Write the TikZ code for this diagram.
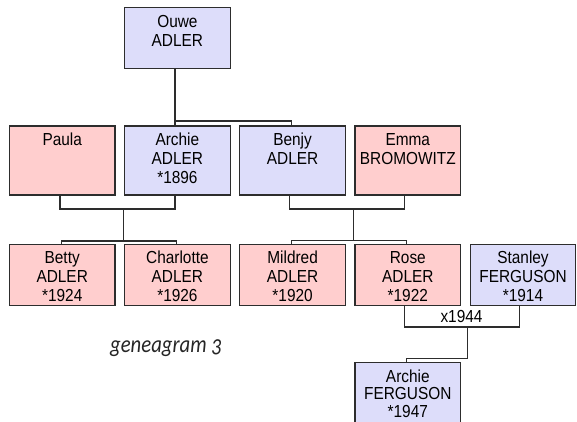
\documentclass[tikz,border=0pt]{standalone}
\usepackage{fontspec}
\usepackage{graphicx}
\setmainfont{Liberation Sans}
\newfontfamily\captionfont[Numbers=OldStyle]{Carlito}
\definecolor{mblue}{RGB}{221,221,250}
\definecolor{fpink}{RGB}{255,206,206}
\definecolor{edge}{RGB}{45,45,45}
\newcommand\persontext[1]{\scalebox{1}[1.13]{\begin{tabular}[t]{@{}c@{}}#1\end{tabular}}}
\tikzset{
  pbox/.style={draw=edge, line width=1.2pt, inner sep=0pt, minimum width=105.5pt, minimum height=61pt},
  tallbox/.style={pbox, minimum height=69pt},
  male/.style={fill=mblue},
  female/.style={fill=fpink},
  ptext/.style={anchor=base, inner sep=0pt, text=black,
    font=\fontsize{15.4}{16.8}\selectfont},
  link/.style={draw=edge, line width=1.2pt},
}
\begin{document}
\begin{tikzpicture}[x=1pt, y=-1pt]
\useasboundingbox (0,0) rectangle (577,422);
\clip (0,0) rectangle (577,422);
% row 1
\node[pbox, male] (ouwe) at (177.4,37.8) {};
% row 2
\node[tallbox, female] (paula) at (62.2,160.5) {};
\node[tallbox, male] (archie) at (177.4,160.5) {};
\node[tallbox, male] (benjy) at (292.6,160.5) {};
\node[tallbox, female] (emma) at (407.8,160.5) {};
% row 3
\node[pbox, female] (betty) at (62.2,274.8) {};
\node[pbox, female] (charlotte) at (177.4,274.8) {};
\node[pbox, female] (mildred) at (292.6,274.8) {};
\node[pbox, female] (rose) at (407.8,274.8) {};
\node[pbox, male] (stanley) at (523.0,274.8) {};
% row 4
\node[pbox, male] (archief) at (407.8,393.2) {};

% texts
\node[ptext] (ouwe-t) at ([yshift=-21]ouwe.north) {\persontext{Ouwe\\ADLER}};
\node[ptext] (paula-t) at ([yshift=-20]paula.north) {\persontext{Paula}};
\node[ptext] (archie-t) at ([yshift=-20]archie.north) {\persontext{Archie\\ADLER\\{*}1896}};
\node[ptext] (benjy-t) at ([yshift=-20]benjy.north) {\persontext{Benjy\\ADLER}};
\node[ptext] (emma-t) at ([yshift=-20]emma.north) {\persontext{Emma\\BROMOWITZ}};
\node[ptext] (betty-t) at ([yshift=-19.5]betty.north) {\persontext{Betty\\ADLER\\{*}1924}};
\node[ptext] (charlotte-t) at ([yshift=-19.5]charlotte.north) {\persontext{Charlotte\\ADLER\\{*}1926}};
\node[ptext] (mildred-t) at ([yshift=-19.5]mildred.north) {\persontext{Mildred\\ADLER\\{*}1920}};
\node[ptext] (rose-t) at ([yshift=-19.5]rose.north) {\persontext{Rose\\ADLER\\{*}1922}};
\node[ptext] (stanley-t) at ([yshift=-19.5]stanley.north) {\persontext{Stanley\\FERGUSON\\{*}1914}};
\node[ptext] (archief-t) at ([yshift=-20]archief.north) {\persontext{Archie\\[-1.2pt]FERGUSON\\[-1.2pt]{*}1947}};

% connectors
\draw[link] ([xshift=-2.4]ouwe.south) -- ([xshift=-2.4]archie.north);
\draw[link] ([xshift=-2.4,yshift=4.3]archie.north) -| ([xshift=-1.3]benjy.north);

\coordinate (m1) at (123.3,209);
\coordinate (k1) at (123.3,241);
\draw[link] ([xshift=-2.2]paula.south) |- (m1) -| ([xshift=-2.4]archie.south);
\draw[link] (m1) -- (k1);
\draw[link] ([xshift=-0.5]betty.north) |- (k1) -| ([xshift=-0.7]charlotte.north);

\coordinate (m2) at (353.3,209);
\coordinate (k2) at (353.3,240.7);
\draw[link] ([xshift=-2.9]benjy.south) |- (m2) -| ([xshift=-3]emma.south);
\draw[link] (m2) -- (k2);
\draw[link] ([xshift=-1.3]mildred.north) |- (k2) -| ([xshift=-1]rose.north);

\coordinate (m3) at (467.3,327);
\coordinate (k3) at (467.3,358.7);
\draw[link] ([xshift=-3]rose.south) |- (m3) -| ([xshift=-3.3]stanley.south);
\draw[link] (m3) -- (k3) -| ([xshift=-1]archief.north);
\node[ptext] (xlab) at (461.5,322.7) {\scalebox{1}[1.13]{x1944}};

\node[anchor=base west, inner sep=0pt, text=black!85, font=\captionfont\itshape\fontsize{20.7}{24}\selectfont]
  (caption) at (110,352.7) {\scalebox{1}[1.17]{geneagram 3}};
\end{tikzpicture}
\end{document}
